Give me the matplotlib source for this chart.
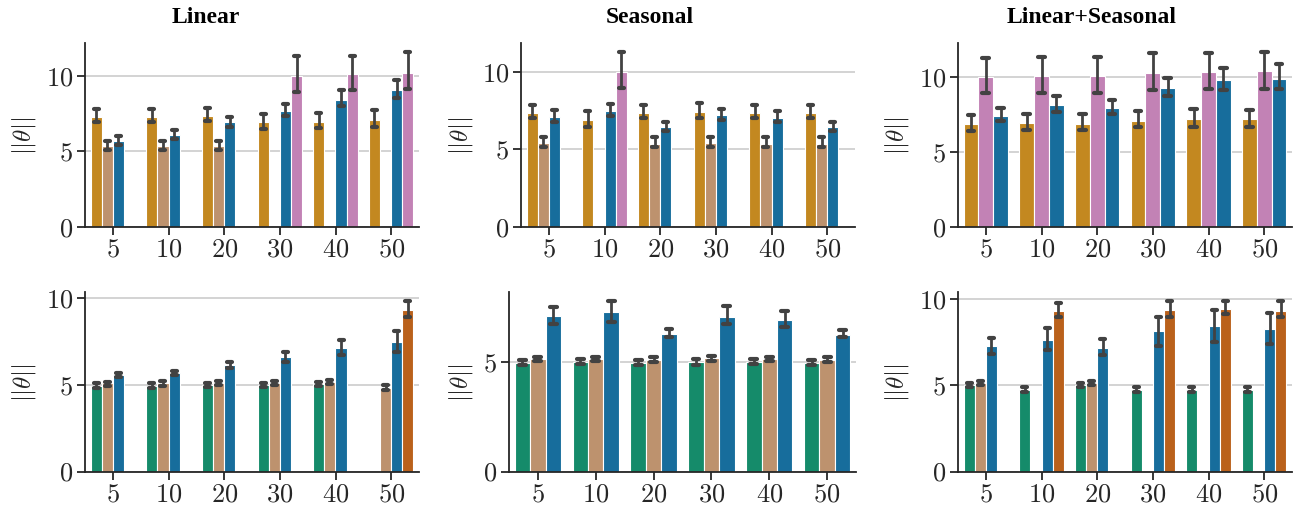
import numpy as np
import matplotlib
matplotlib.use('Agg')
import matplotlib.pyplot as plt
import seaborn as sns
from matplotlib.ticker import FixedLocator, FuncFormatter

N = np.nan
categories = ['5', '10', '20', '30', '40', '50']
titles = ['Linear', 'Seasonal', 'Linear+Seasonal']
ylabel = r'$||\theta||$'

# ---------------- top row ----------------
lin_top_hues = ['gold', 'tan', 'blue', 'pink']
lin_top_mean = [[7.28, 7.28, 7.35, 6.90, 6.92, 7.04],
                [5.38, 5.38, 5.38, N, N, N],
                [5.71, 6.08, 6.90, 7.63, 8.41, 9.07],
                [N, N, N, 10.00, 10.07, 10.18]]
lin_top_lo = [[6.90, 6.90, 6.97, 6.48, 6.53, 6.59],
              [5.07, 5.07, 5.07, N, N, N],
              [5.42, 5.80, 6.57, 7.30, 8.01, 8.52],
              [N, N, N, 8.89, 9.03, 9.14]]
lin_top_hi = [[7.79, 7.79, 7.88, 7.46, 7.52, 7.70],
              [5.71, 5.71, 5.71, N, N, N],
              [6.04, 6.42, 7.26, 8.14, 9.03, 9.73],
              [N, N, N, 11.28, 11.28, 11.57]]

sea_top_hues = ['gold', 'tan', 'blue', 'pink']
sea_top_mean = [[7.34, 6.87, 7.34, 7.39, 7.34, 7.34],
                [5.40, N, 5.36, 5.40, 5.36, 5.36],
                [7.08, 7.45, 6.46, 7.19, 7.02, 6.44],
                [N, 10.00, N, N, N, N]]
sea_top_lo = [[7.02, 6.48, 7.02, 7.02, 7.02, 7.02],
              [5.18, N, 5.18, 5.18, 5.18, 5.18],
              [6.80, 7.13, 6.16, 6.87, 6.74, 6.16],
              [N, 8.96, N, N, N, N]]
sea_top_hi = [[7.88, 7.49, 7.88, 7.97, 7.88, 7.88],
              [5.79, N, 5.79, 5.79, 5.79, 5.79],
              [7.56, 7.93, 6.80, 7.62, 7.49, 6.80],
              [N, 11.30, N, N, N, N]]

ls_top_hues = ['gold', 'pink', 'blue']
ls_top_mean = [[6.90, 6.95, 6.90, 7.10, 7.19, 7.19],
               [10.00, 10.09, 10.07, 10.27, 10.33, 10.38],
               [7.42, 8.11, 7.91, 9.24, 9.80, 9.89]]
ls_top_lo = [[6.41, 6.50, 6.46, 6.64, 6.70, 6.70],
             [8.95, 8.95, 8.95, 9.15, 9.20, 9.20],
             [7.08, 7.68, 7.53, 8.71, 9.15, 9.20]]
ls_top_hi = [[7.46, 7.51, 7.55, 7.73, 7.86, 7.82],
             [11.25, 11.31, 11.36, 11.60, 11.60, 11.69],
             [7.91, 8.71, 8.49, 9.96, 10.62, 10.85]]

# ---------------- bottom row ----------------
lin_bot_hues = ['green', 'tan', 'blue', 'verm']
lin_bot_mean = [[4.93, 4.95, 4.99, 4.99, 5.03, N],
                [5.07, 5.07, 5.09, 5.09, 5.15, 4.83],
                [5.57, 5.65, 6.12, 6.58, 7.09, 7.48],
                [N, N, N, N, N, 9.32]]
lin_bot_lo = [[4.80, 4.83, 4.87, 4.87, 4.91, N],
              [4.95, 4.95, 4.97, 4.97, 5.02, 4.68],
              [5.44, 5.53, 5.98, 6.31, 6.68, 6.89],
              [N, N, N, N, N, 8.91]]
lin_bot_hi = [[5.07, 5.08, 5.11, 5.11, 5.15, N],
              [5.18, 5.19, 5.21, 5.21, 5.28, 4.99],
              [5.69, 5.79, 6.29, 6.89, 7.59, 8.06],
              [N, N, N, N, N, 9.84]]

sea_bot_hues = ['green', 'tan', 'blue']
sea_bot_mean = [[4.96, 5.00, 4.96, 4.97, 4.99, 4.96],
                [5.12, 5.13, 5.09, 5.16, 5.13, 5.09],
                [7.07, 7.26, 6.26, 7.04, 6.88, 6.22]]
sea_bot_lo = [[4.85, 4.89, 4.85, 4.86, 4.88, 4.85],
              [5.01, 5.02, 4.98, 5.05, 5.02, 4.98],
              [6.73, 6.82, 6.13, 6.70, 6.59, 6.10]]
sea_bot_hi = [[5.09, 5.12, 5.09, 5.10, 5.11, 5.09],
              [5.21, 5.23, 5.19, 5.25, 5.23, 5.19],
              [7.47, 7.78, 6.47, 7.51, 7.29, 6.43]]

ls_bot_hues = ['green', 'tan', 'blue', 'verm']
ls_bot_mean = [[5.00, 4.71, 5.00, 4.71, 4.71, 4.71],
               [5.10, N, 5.10, N, N, N],
               [7.24, 7.63, 7.18, 8.11, 8.40, 8.25],
               [N, 9.28, N, 9.34, 9.42, 9.32]]
ls_bot_lo = [[4.88, 4.61, 4.88, 4.61, 4.61, 4.61],
             [4.99, N, 4.99, N, N, N],
             [6.81, 7.02, 6.77, 7.26, 7.49, 7.39],
             [N, 8.93, N, 8.97, 9.11, 8.97]]
ls_bot_hi = [[5.12, 4.90, 5.12, 4.90, 4.90, 4.90],
             [5.22, N, 5.22, N, N, N],
             [7.76, 8.31, 7.65, 8.97, 9.34, 9.18],
             [N, 9.77, N, 9.86, 9.90, 9.86]]

# ---------------- style ----------------
sns.set_style('whitegrid')
plt.rcParams['mathtext.fontset'] = 'cm'
plt.rcParams['font.family'] = ['Liberation Serif', 'DejaVu Serif']

pal = sns.color_palette('colorblind')
base = {'blue': pal[0], 'gold': pal[1], 'green': pal[2], 'verm': pal[3],
        'pink': pal[4], 'tan': pal[5]}
colors = {k: sns.desaturate(v, 0.75) for k, v in base.items()}
err_color = '.26'

W, H = 1296, 510
fig = plt.figure(figsize=(W / 100, H / 100), dpi=100)

panels = [
    (lin_top_hues, lin_top_mean, lin_top_lo, lin_top_hi),
    (sea_top_hues, sea_top_mean, sea_top_lo, sea_top_hi),
    (ls_top_hues, ls_top_mean, ls_top_lo, ls_top_hi),
    (lin_bot_hues, lin_bot_mean, lin_bot_lo, lin_bot_hi),
    (sea_bot_hues, sea_bot_mean, sea_bot_lo, sea_bot_hi),
    (ls_bot_hues, ls_bot_mean, ls_bot_lo, ls_bot_hi),
]
# axes boxes in pixels: left, right, top, bottom
boxes = [
    (85, 419, 44, 228), (521, 855, 44, 228), (958, 1292, 44, 228),
    (85, 419, 293, 472.5), (509, 856, 293, 472.5), (958, 1292, 293, 472.5),
]
label_x = [38, 475, 911, 38, 475, 911]

x = np.arange(len(categories))
for i, ((hues, mean, lo, hi), (l, r, t, b)) in enumerate(zip(panels, boxes)):
    ax = fig.add_axes([l / W, 1 - b / H, (r - l) / W, (b - t) / H])
    n = len(hues)
    w = 0.8 / n
    for j, h in enumerate(hues):
        m = np.array(mean[j], float)
        lo_ = np.array(lo[j], float)
        hi_ = np.array(hi[j], float)
        ok = ~np.isnan(m)
        xs = x[ok] - 0.4 + w * (j + 0.5)
        ax.bar(xs, m[ok], width=w, color=colors[h], edgecolor='white',
               linewidth=0.8, zorder=2)
        cap = 0.45 * w / 2
        for xx, a, c in zip(xs, lo_[ok], hi_[ok]):
            ax.plot([xx, xx], [a, c], color=err_color, lw=2.0,
                    solid_capstyle='butt', zorder=3)
            for yy in (a, c):
                ax.plot([xx - cap, xx + cap], [yy, yy], color=err_color,
                        lw=3.0, solid_capstyle='round', zorder=3)
    ax.set_xlim(-0.5, len(categories) - 0.5)
    ax.set_ylim(bottom=0)
    ax.set_xticks(x)
    ax.set_xticklabels(['$%s$' % c for c in categories])
    ax.yaxis.set_major_locator(FixedLocator([0, 5, 10]))
    ax.yaxis.set_major_formatter(FuncFormatter(lambda v, p: '$%d$' % v))
    ax.grid(axis='x', visible=False)
    ax.grid(axis='y', color='.8', lw=1.2, zorder=0)
    ax.set_axisbelow(True)
    for s in ['top', 'right']:
        ax.spines[s].set_visible(False)
    for s in ['left', 'bottom']:
        ax.spines[s].set_color('.15')
        ax.spines[s].set_linewidth(1.3)
    ax.tick_params(axis='both', which='major', labelsize=19, colors='.15',
                   length=5.5, width=1.3, direction='out', left=True, bottom=True,
                   pad=3)
    ax.set_ylabel(ylabel, fontsize=18, color='.15')
    ax.yaxis.set_label_coords(label_x[i] / W, 1 - ((t + b) / 2) / H,
                              transform=fig.transFigure)

title_x = [206, 650, 1092]
for tx, tt in zip(title_x, titles):
    fig.text(tx / W, 1 - 23 / H, tt, ha='center', va='baseline',
             fontsize=17, fontweight='bold', color='black')

fig.savefig('out.png', dpi=100)
